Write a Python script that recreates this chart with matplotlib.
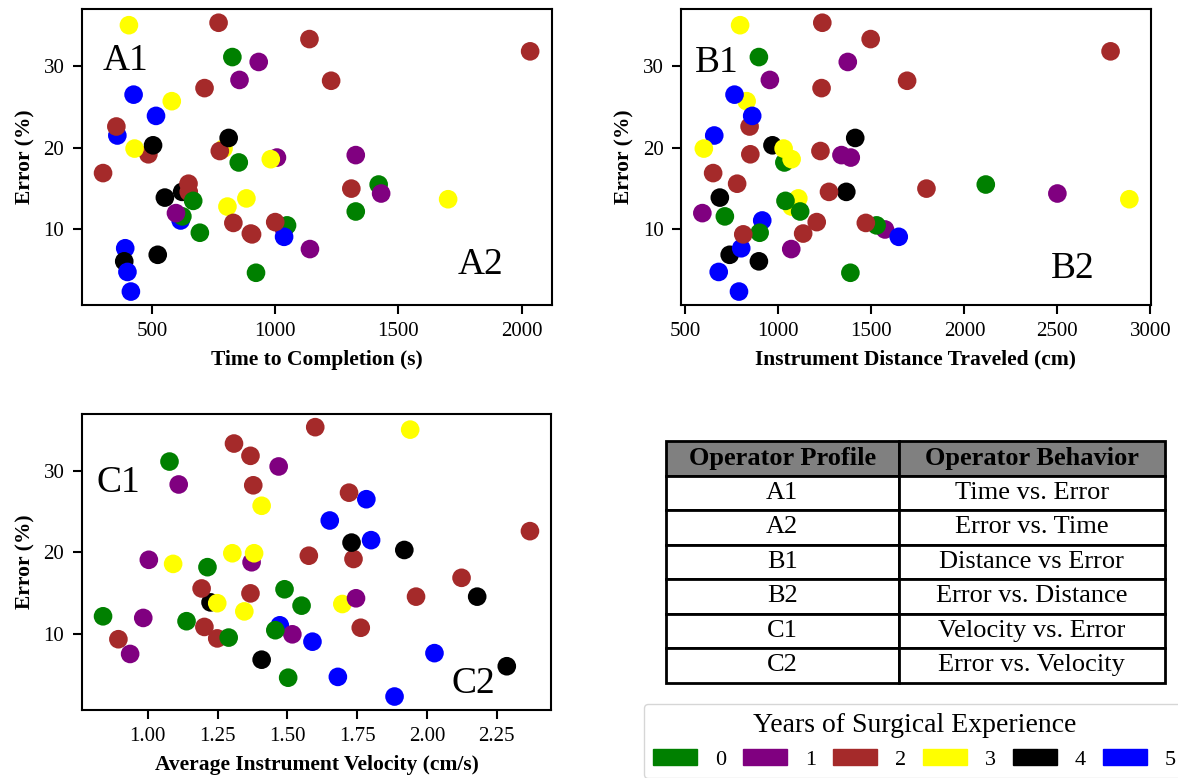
import matplotlib
matplotlib.use("Agg")
import matplotlib.pyplot as plt
from matplotlib.patches import Patch

# ── Data (one entry per operator, in drawing order) ─────────────────────────
years = [0, 5, 5, 4, 4, 4, 2, 4, 3, 3, 2, 4, 1, 1, 3, 3, 2, 2, 2, 3, 3, 0, 0, 0,
         1, 3, 0, 1, 2, 0, 1, 0, 5, 5, 5, 5, 2, 2, 2, 2, 2, 2, 2, 2, 2, 2, 3, 0,
         0, 1, 1, 1, 4, 5, 5]
time_s = [852, 359, 616, 523, 552, 622, 485, 504, 580, 790, 775, 811, 1327, 1007,
          982, 429, 355, 649, 648, 883, 806, 667, 1327, 623, 597, 1702, 1420, 1430,
          901, 694, 1036, 1048, 1036, 425, 516, 391, 770, 1139, 2035, 1227, 713,
          301, 1309, 830, 1000, 906, 406, 826, 922, 933, 855, 1141, 387, 400, 414]
distance_cm = [1032, 655, 913, 738, 685, 1365, 849, 968, 829, 1028, 1226, 1413,
               1339, 1389, 1071, 599, 845, 1272, 778, 1107, 1071, 1038, 1117, 712,
               591, 2887, 2115, 2500, 1133, 899, 1573, 1528, 1647, 764, 859, 800,
               1236, 1496, 2786, 1692, 1232, 649, 1796, 1470, 1206, 811, 794, 895,
               1387, 1373, 954, 1069, 895, 679, 788]
velocity = [1.214, 1.800, 1.473, 1.408, 1.225, 2.180, 1.737, 1.919, 1.408, 1.303,
            1.577, 1.730, 1.004, 1.372, 1.091, 1.381, 2.369, 1.961, 1.193, 1.249,
            1.346, 1.551, 0.840, 1.139, 0.984, 1.697, 1.490, 1.746, 1.249, 1.290,
            1.518, 1.457, 1.590, 1.783, 1.652, 2.027, 1.600, 1.309, 1.368, 1.378,
            1.721, 2.124, 1.368, 1.763, 1.203, 0.895, 1.940, 1.078, 1.503, 1.469,
            1.111, 0.937, 2.286, 1.681, 1.884]
error_pct = [18.2, 21.5, 11.1, 6.9, 13.9, 14.6, 19.2, 20.3, 25.7, 19.9, 19.6, 21.2,
             19.1, 18.8, 18.6, 19.9, 22.6, 14.6, 15.6, 13.8, 12.8, 13.5, 12.2, 11.6,
             12.0, 13.7, 15.5, 14.4, 9.5, 9.6, 10.0, 10.5, 9.1, 26.5, 23.9, 7.7,
             35.3, 33.3, 31.8, 28.2, 27.3, 16.9, 15.0, 10.8, 10.9, 9.4, 35.0, 31.1,
             4.7, 30.5, 28.3, 7.6, 6.1, 4.8, 2.4]

YEAR_COLORS = {0: "green", 1: "purple", 2: "brown", 3: "yellow", 4: "black", 5: "blue"}

profiles = ["A1", "A2", "B1", "B2", "C1", "C2"]
behaviors = ["Time vs. Error", "Error vs. Time", "Distance vs Error",
             "Error vs. Distance", "Velocity vs. Error", "Error vs. Velocity"]

# ── Style ───────────────────────────────────────────────────────────────────
plt.rcParams.update({
    "font.family": "serif",
    "font.serif": ["Liberation Serif", "DejaVu Serif"],
    "axes.linewidth": 1.5,
})

W, H = 1178, 778
fig = plt.figure(figsize=(W / 100, H / 100), dpi=100)


def px_axes(left, top, right, bottom):
    return fig.add_axes([left / W, 1 - bottom / H, (right - left) / W, (bottom - top) / H])


def scatter_panel(ax, x, xlabel, tag1, pos1, tag2, pos2):
    colors = [YEAR_COLORS[y] for y in years]
    ax.scatter(x, error_pct, c=colors, s=180, linewidths=0, zorder=2)
    ax.set_yticks([10, 20, 30])
    ax.tick_params(labelsize=15, length=6.5, width=1.5, pad=6)
    ax.set_xlabel(xlabel, fontsize=15.5, fontweight="bold", labelpad=6)
    ax.set_ylabel("Error (%)", fontsize=15.5, fontweight="bold", labelpad=6)
    ax.text(*pos1, tag1, transform=ax.transAxes, fontsize=27, ha="center", va="center")
    ax.text(*pos2, tag2, transform=ax.transAxes, fontsize=27, ha="center", va="center")


ax_a = px_axes(81.7, 9.3, 551.5, 305)
scatter_panel(ax_a, time_s, "Time to Completion (s)", "A1", (0.093, 0.825), "A2", (0.849, 0.135))

ax_b = px_axes(681, 9.3, 1150.7, 305)
scatter_panel(ax_b, distance_cm, "Instrument Distance Traveled (cm)", "B1", (0.077, 0.82), "B2", (0.833, 0.121))

ax_c = px_axes(81.7, 413.7, 551.3, 710)
scatter_panel(ax_c, velocity, "Average Instrument Velocity (cm/s)", "C1", (0.079, 0.768), "C2", (0.835, 0.09))

# ── Table ───────────────────────────────────────────────────────────────────
ax_t = px_axes(665.7, 441, 1165, 682.7)
ax_t.axis("off")
tbl = ax_t.table(cellText=[[p, b] for p, b in zip(profiles, behaviors)],
                 colLabels=["Operator Profile", "Operator Behavior"],
                 cellLoc="center", colWidths=[0.467, 0.533], bbox=[0, 0, 1, 1])
tbl.auto_set_font_size(False)
tbl.set_fontsize(19)
for (r, c), cell in tbl.get_celld().items():
    cell.set_linewidth(2)
    cell.set_edgecolor("black")
    if r == 0:
        cell.set_facecolor("#808080")
        cell.get_text().set_fontweight("bold")

# ── Legend ──────────────────────────────────────────────────────────────────
handles = [Patch(color=c, label=str(y)) for y, c in YEAR_COLORS.items()]
fig.legend(handles=handles, ncol=6, title="Years of Surgical Experience",
           fontsize=16, title_fontsize=20, loc="upper left",
           bbox_to_anchor=(644 / W, 1 - 704 / H), borderaxespad=0,
           columnspacing=0.75, handletextpad=0.8)

fig.savefig("out.png", dpi=100)
